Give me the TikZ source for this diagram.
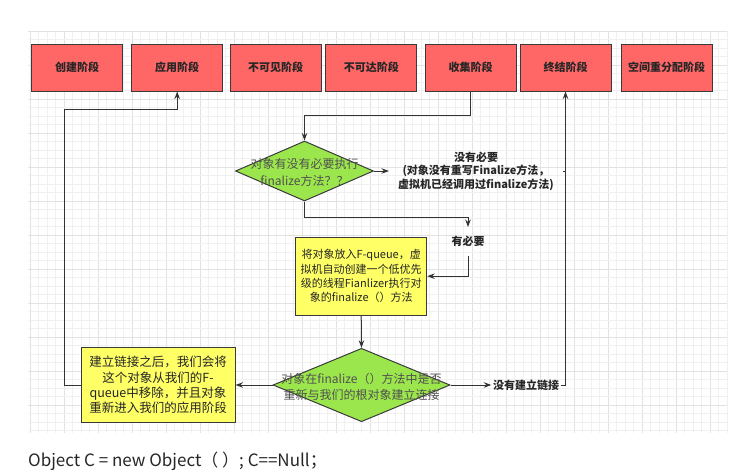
\documentclass[tikz,border=0pt]{standalone}
\usepackage{fontspec}
\setmainfont{Noto Sans CJK SC}
\usetikzlibrary{shapes.geometric,arrows.meta}
\definecolor{stageRed}{HTML}{FF6666}
\definecolor{noteYellow}{HTML}{FFFF66}
\definecolor{decGreen}{HTML}{9CE64D}
\definecolor{edgeGrey}{HTML}{333333}
\definecolor{borderGrey}{HTML}{3A3A3A}
\definecolor{gridMinor}{HTML}{F0F0F0}
\definecolor{gridMajor}{HTML}{E2E2E2}
\definecolor{diaText}{HTML}{505050}
\definecolor{mainText}{HTML}{262626}
\begin{document}
\begin{tikzpicture}[x=1pt,y=-1pt,
 stagebox/.style={draw=borderGrey, line width=1pt, fill=stageRed, minimum width=91pt, minimum height=47pt, inner sep=0pt, font=\fontsize{11}{13}\selectfont\bfseries, text=mainText},
 notebox/.style={draw=borderGrey, line width=1pt, fill=noteYellow, inner sep=0pt, align=center, text=mainText},
 decision/.style={diamond, draw=borderGrey, line width=1pt, fill=decGreen, inner sep=0pt},
 dectext/.style={text=diaText, align=center, inner sep=0pt},
 edgelabel/.style={font=\fontsize{11}{13.5}\selectfont\bfseries, align=center, text=mainText},
 link/.style={draw=edgeGrey, line width=1pt, -{Stealth[length=7.5pt,width=5.5pt]}},
 plain/.style={draw=edgeGrey, line width=1pt}
]
\useasboundingbox (0,0) rectangle (739,471);
% grid
\foreach \k in {0,...,82} {
  \pgfmathsetmacro{\gx}{30+8.5*\k}
  \pgfmathtruncatemacro{\gm}{mod(\k,4)}
  \ifnum\gm=0
    \draw[gridMajor, line width=0.7pt] (\gx,31) -- (\gx,433);
  \else
    \draw[gridMinor, line width=0.7pt] (\gx,31) -- (\gx,433);
  \fi
}
\foreach \k in {0,...,47} {
  \pgfmathsetmacro{\gy}{31+8.5*\k}
  \pgfmathtruncatemacro{\gm}{mod(\k,4)}
  \ifnum\gm=0
    \draw[gridMajor, line width=0.7pt] (28,\gy) -- (727,\gy);
  \else
    \draw[gridMinor, line width=0.7pt] (28,\gy) -- (727,\gy);
  \fi
}
% stages
\node[stagebox] (t1) at (77,67.5) {创建阶段};
\node[stagebox] (t2) at (177.2,67.5) {应用阶段};
\node[stagebox] (t3) at (275.5,67.5) {不可见阶段};
\node[stagebox] (t4) at (371.3,67.5) {不可达阶段};
\node[stagebox] (t5) at (470.5,67.5) {收集阶段};
\node[stagebox] (t6) at (565.5,67.5) {终结阶段};
\node[stagebox] (t7) at (666.5,67.5) {空间重分配阶段};
% decision 1
\node[decision, minimum width=138pt, minimum height=60pt] (d1) at (304.5,171) {};
\node[dectext, font=\fontsize{12}{17}\selectfont] (d1t) at (304.5,172) {对象有没有必要执行\\finalize方法？？};
\node[edgelabel, inner xsep=9pt] (n1) at (476,171) {没有必要\\(对象没有重写Finalize方法，\\虚拟机已经调用过finalize方法)};
\node[edgelabel, inner ysep=9pt] (n2) at (468,241.5) {有必要};
% yellow 1
\node[notebox, minimum width=131pt, minimum height=77.7pt, font=\fontsize{11}{14.4}\selectfont] (y1) at (361.2,276.2)
 {将对象放入F-queue，虚\\拟机自动创建一个低优先\\级的线程Fianlizer执行对\\象的finalize（）方法};
% decision 2
\node[decision, minimum width=177pt, minimum height=73.4pt] (d2) at (361.5,385) {};
\node[dectext, font=\fontsize{12}{16}\selectfont] (d2t) at (361.5,387) {对象在finalize（）方法中是否\\重新与我们的根对象建立连接};
% yellow 2
\node[notebox, minimum width=154pt, minimum height=75.4pt, font=\fontsize{12.5}{15.2}\selectfont] (y2) at (158,385)
 {建立链接之后，我们会将\\这个对象从我们的F-\\queue中移除，并且对象\\重新进入我们的应用阶段};
\node[edgelabel, inner xsep=1.5pt] (n3) at (526,385) {没有建立链接};
% connectors
\draw[link] (t5.south) -- ++(0,24) -| (d1.north);
\draw[link] (d1.east) -- (n1.west);
\draw[plain] (n1.east) -- (n1.east -| t6.south);
\draw[link] (d1.south) -- ++(0,16.3) -| (n2.north);
\draw[link] (n2.south) |- (y1.east);
\draw[link] (y1.south) -- (d2.north);
\draw[link] (d2.east) -- (n3.west);
\draw[link] (n3.east) -| (t6.south);
\draw[link] (d2.west) -- (y2.east);
\coordinate (fb) at (64.3,109);
\draw[link] (y2.west) -| (fb) -| (t2.south);
% code line
\node[anchor=west, font=\fontsize{17}{20}\selectfont, text=mainText, inner sep=0pt] (code) at (28,461) {Object C = new Object（ ）; C==Null；};
\end{tikzpicture}
\end{document}
